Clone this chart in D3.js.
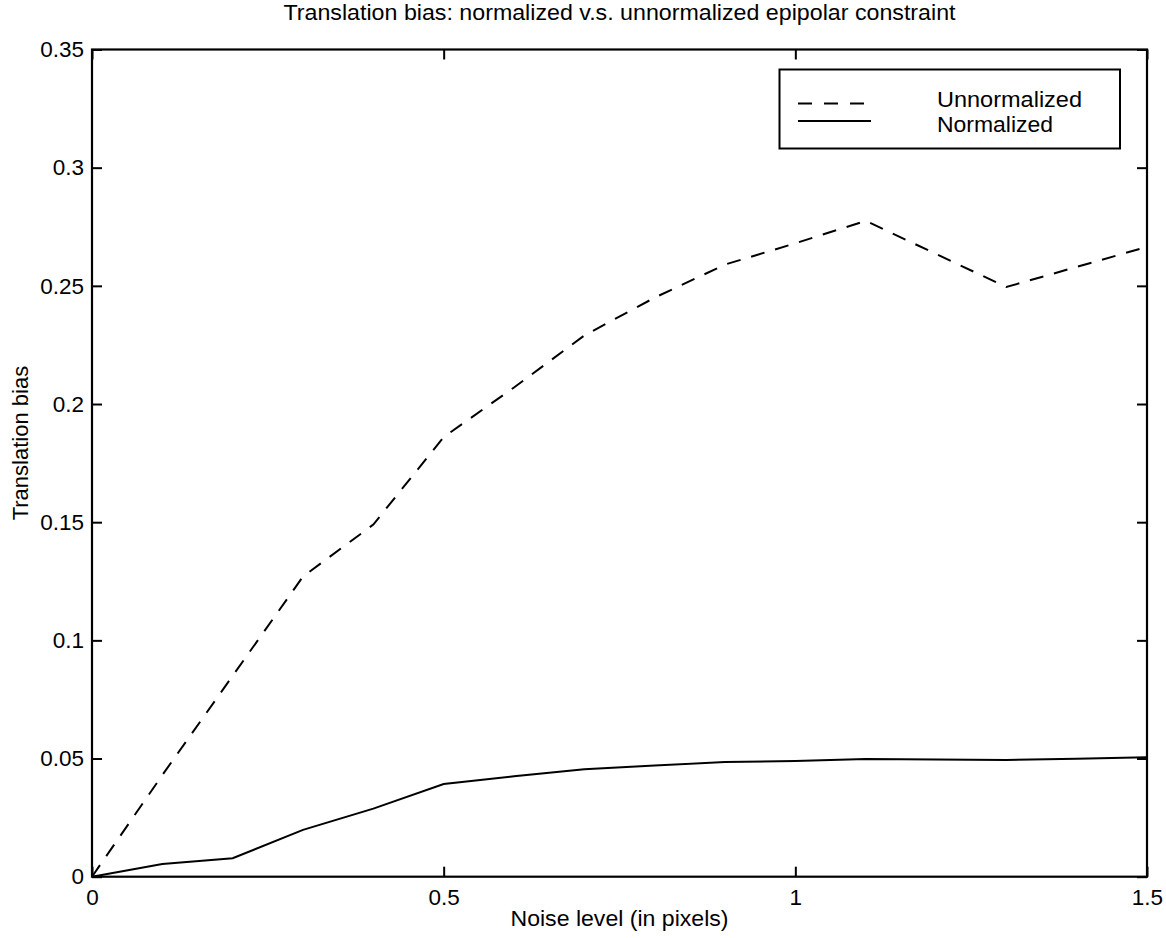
<!DOCTYPE html>
<html><head><meta charset="utf-8">
<script src="https://cdn.jsdelivr.net/npm/d3@7"></script>
<style>
body{margin:0;background:#fff;}
text{font-family:"Liberation Sans",Arial,Helvetica,sans-serif;fill:#000;}
</style></head>
<body>
<svg id="chart" width="1166" height="938"></svg>
<script>
const noise = [0,0.1,0.2,0.3,0.4,0.5,0.6,0.7,0.8,0.9,1.0,1.1,1.2,1.3,1.4,1.5];
const unnormalized = [0,0.043,0.085,0.127,0.149,0.186,0.207,0.229,0.245,0.259,0.268,0.2775,0.2635,0.2495,0.258,0.2665];
const normalized = [0,0.0054,0.0078,0.0198,0.0288,0.0392,0.0425,0.0455,0.047,0.0485,0.049,0.0498,0.0496,0.0494,0.0499,0.0505];
const xTicks = [0,0.5,1,1.5];
const yTicks = [0,0.05,0.1,0.15,0.2,0.25,0.3,0.35];
const seriesNames = ["Unnormalized","Normalized"];
const titleText = "Translation bias: normalized v.s. unnormalized epipolar constraint";
const xLabel = "Noise level (in pixels)";
const yLabel = "Translation bias";

const svg = d3.select("#chart");
const L=92, R=1147, T=49.5, B=876.7;
const x = d3.scaleLinear().domain([0,1.5]).range([L,R]);
const y = d3.scaleLinear().domain([0,0.35]).range([B,T]);
const tickLen = 10;

const fmt = d => d===0 ? "0" : String(d);
svg.append("g").attr("transform",`translate(0,${B})`)
  .call(d3.axisBottom(x).tickValues(xTicks).tickFormat(fmt).tickSize(-tickLen).tickPadding(12))
  .call(g=>{g.select(".domain").remove(); g.selectAll("line").attr("stroke","#000").attr("stroke-width",2);
    g.selectAll("text").attr("font-size",22.5).attr("dy","0.71em");});
svg.append("g").attr("transform",`translate(0,${T})`)
  .call(d3.axisTop(x).tickValues(xTicks).tickFormat("").tickSize(-tickLen))
  .call(g=>{g.select(".domain").remove(); g.selectAll("line").attr("stroke","#000").attr("stroke-width",2);});
svg.append("g").attr("transform",`translate(${L},0)`)
  .call(d3.axisLeft(y).tickValues(yTicks).tickFormat(fmt).tickSize(-tickLen).tickPadding(8))
  .call(g=>{g.select(".domain").remove(); g.selectAll("line").attr("stroke","#000").attr("stroke-width",2);
    g.selectAll("text").attr("font-size",22.5);});
svg.append("g").attr("transform",`translate(${R},0)`)
  .call(d3.axisRight(y).tickValues(yTicks).tickFormat("").tickSize(-tickLen))
  .call(g=>{g.select(".domain").remove(); g.selectAll("line").attr("stroke","#000").attr("stroke-width",2);});

svg.append("rect").attr("x",L).attr("y",T).attr("width",R-L).attr("height",B-T)
  .attr("fill","none").attr("stroke","#000").attr("stroke-width",2.2);

const line = d3.line().x((d,i)=>x(noise[i])).y(d=>y(d));
svg.append("path").datum(unnormalized).attr("d",line).attr("fill","none")
  .attr("stroke","#000").attr("stroke-width",2).attr("stroke-dasharray","14,11");
svg.append("path").datum(normalized).attr("d",line).attr("fill","none")
  .attr("stroke","#000").attr("stroke-width",2);

svg.append("text").attr("x",(L+R)/2).attr("y",20).attr("text-anchor","middle")
  .attr("font-size",22).attr("textLength",672).attr("lengthAdjust","spacingAndGlyphs").text(titleText);
svg.append("text").attr("x",(L+R)/2).attr("y",926).attr("text-anchor","middle")
  .attr("font-size",22).attr("textLength",218).attr("lengthAdjust","spacingAndGlyphs").text(xLabel);
svg.append("text").attr("transform",`translate(28,${(T+B)/2 - 20}) rotate(-90)`).attr("text-anchor","middle")
  .attr("font-size",22).text(yLabel);

const lg = svg.append("g");
lg.append("rect").attr("x",779.5).attr("y",69.5).attr("width",340.5).attr("height",79)
  .attr("fill","#fff").attr("stroke","#000").attr("stroke-width",2);
const lgY = [103.5,121];
const lgBase = [107,132];
const lgLen = [145,116];
seriesNames.forEach((name,i)=>{
  lg.append("line").attr("x1",798).attr("x2",871).attr("y1",lgY[i]).attr("y2",lgY[i])
    .attr("stroke","#000").attr("stroke-width",2).attr("stroke-dasharray", i===0 ? "14,12" : null);
  lg.append("text").attr("x",937).attr("y",lgBase[i]).attr("font-size",22)
    .attr("textLength",lgLen[i]).attr("lengthAdjust","spacingAndGlyphs").text(name);
});
</script>
</body></html>
